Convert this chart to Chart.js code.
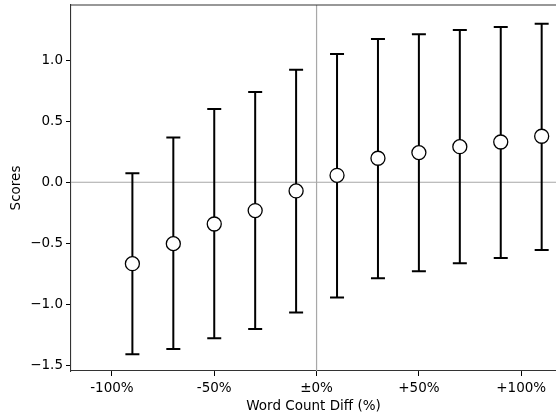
<!DOCTYPE html>
<html>
<head>
<meta charset="utf-8">
<script src="https://cdn.jsdelivr.net/npm/chart.js@4.4.0/dist/chart.umd.min.js"></script>
<style>
    html, body { margin: 0; padding: 0; background: #fff; }
    #wrap { width: 556px; height: 417px; }
</style>
</head>
<body>
<div id="wrap"><canvas id="chart" width="556" height="417"></canvas></div>
<script>
// Word count difference buckets (%)
const diffs = [-90, -70, -50, -30, -10, 10, 30, 50, 70, 90, 110];
// Mean score per bucket
const means = [-0.667, -0.503, -0.342, -0.232, -0.071, 0.057, 0.197, 0.243, 0.292, 0.330, 0.377];
// Lower / upper ends of the error bars
const lows  = [-1.410, -1.366, -1.279, -1.202, -1.068, -0.945, -0.787, -0.730, -0.664, -0.620, -0.555];
const highs = [0.074, 0.366, 0.601, 0.740, 0.923, 1.052, 1.175, 1.213, 1.249, 1.273, 1.300];

const xTicks = [-100, -50, 0, 50, 100];
const xTickLabels = ['-100%', '-50%', '\u00b10%', '+50%', '+100%'];
const yTicks = [-1.5, -1.0, -0.5, 0.0, 0.5, 1.0];

const font = { family: 'DejaVu Sans', size: 13.5 };

// zero lines, frame top and error bars, drawn under the markers
const backdrop = {
    id: 'backdrop',
    beforeDatasetsDraw(chart) {
        const { ctx, chartArea, scales } = chart;
        const x0 = scales.x.getPixelForValue(0);
        const y0 = scales.y.getPixelForValue(0);
        ctx.save();
        ctx.strokeStyle = '#a8a8a8';
        ctx.lineWidth = 1.2;
        ctx.beginPath();
        ctx.moveTo(chartArea.left, y0);
        ctx.lineTo(chartArea.right, y0);
        ctx.moveTo(x0, chartArea.top);
        ctx.lineTo(x0, chartArea.bottom);
        ctx.stroke();
        ctx.strokeStyle = '#333';
        ctx.lineWidth = 1.1;
        ctx.beginPath();
        ctx.moveTo(chartArea.left, chartArea.top);
        ctx.lineTo(chartArea.right, chartArea.top);
        ctx.stroke();

        ctx.strokeStyle = '#000';
        ctx.lineWidth = 2;
        diffs.forEach((d, i) => {
            const px = scales.x.getPixelForValue(d);
            const pl = scales.y.getPixelForValue(lows[i]);
            const ph = scales.y.getPixelForValue(highs[i]);
            ctx.beginPath();
            ctx.moveTo(px, pl);
            ctx.lineTo(px, ph);
            ctx.moveTo(px - 7, pl);
            ctx.lineTo(px + 7, pl);
            ctx.moveTo(px - 7, ph);
            ctx.lineTo(px + 7, ph);
            ctx.stroke();
        });
        ctx.restore();
    }
};

function noPad(axis) {
    axis.paddingLeft = 0;
    axis.paddingRight = 0;
    axis.paddingTop = 0;
    axis.paddingBottom = 0;
}

new Chart(document.getElementById('chart'), {
    type: 'scatter',
    data: {
        datasets: [{
            data: diffs.map((d, i) => ({ x: d, y: means[i] })),
            pointRadius: 7,
            pointHoverRadius: 7,
            pointBackgroundColor: '#fff',
            pointBorderColor: '#000',
            pointBorderWidth: 1.3
        }]
    },
    options: {
        responsive: false,
        animation: false,
        layout: { autoPadding: false, padding: { top: 5, right: 0, left: 0, bottom: 0 } },
        plugins: { legend: { display: false }, tooltip: { enabled: false } },
        scales: {
            x: {
                type: 'linear',
                min: -120,
                max: 117,
                afterBuildTicks: (axis) => { axis.ticks = xTicks.map(v => ({ value: v })); },
                afterFit: (axis) => { axis.height = 46; noPad(axis); },
                ticks: {
                    color: '#000',
                    font: font,
                    padding: 4,
                    maxRotation: 0,
                    callback: (v) => xTickLabels[xTicks.indexOf(v)]
                },
                grid: { drawOnChartArea: false, tickLength: 5, tickColor: '#000', tickWidth: 1 },
                border: { color: '#333', width: 1.1 },
                title: { display: true, text: 'Word Count Diff (%)', color: '#000', font: font, padding: { top: 0, bottom: 2 } }
            },
            y: {
                min: -1.547,
                max: 1.453,
                afterBuildTicks: (axis) => { axis.ticks = yTicks.map(v => ({ value: v })); },
                afterFit: (axis) => { axis.width = 71; noPad(axis); },
                ticks: {
                    color: '#000',
                    font: font,
                    padding: 3,
                    callback: (v) => (v < 0 ? '\u2212' : '') + Math.abs(v).toFixed(1)
                },
                grid: { drawOnChartArea: false, tickLength: 5, tickColor: '#000', tickWidth: 1 },
                border: { color: '#333', width: 1.1 },
                title: { display: true, text: 'Scores', color: '#000', font: font, padding: { top: 8, bottom: 0 } }
            }
        }
    },
    plugins: [backdrop]
});
</script>
</body>
</html>
